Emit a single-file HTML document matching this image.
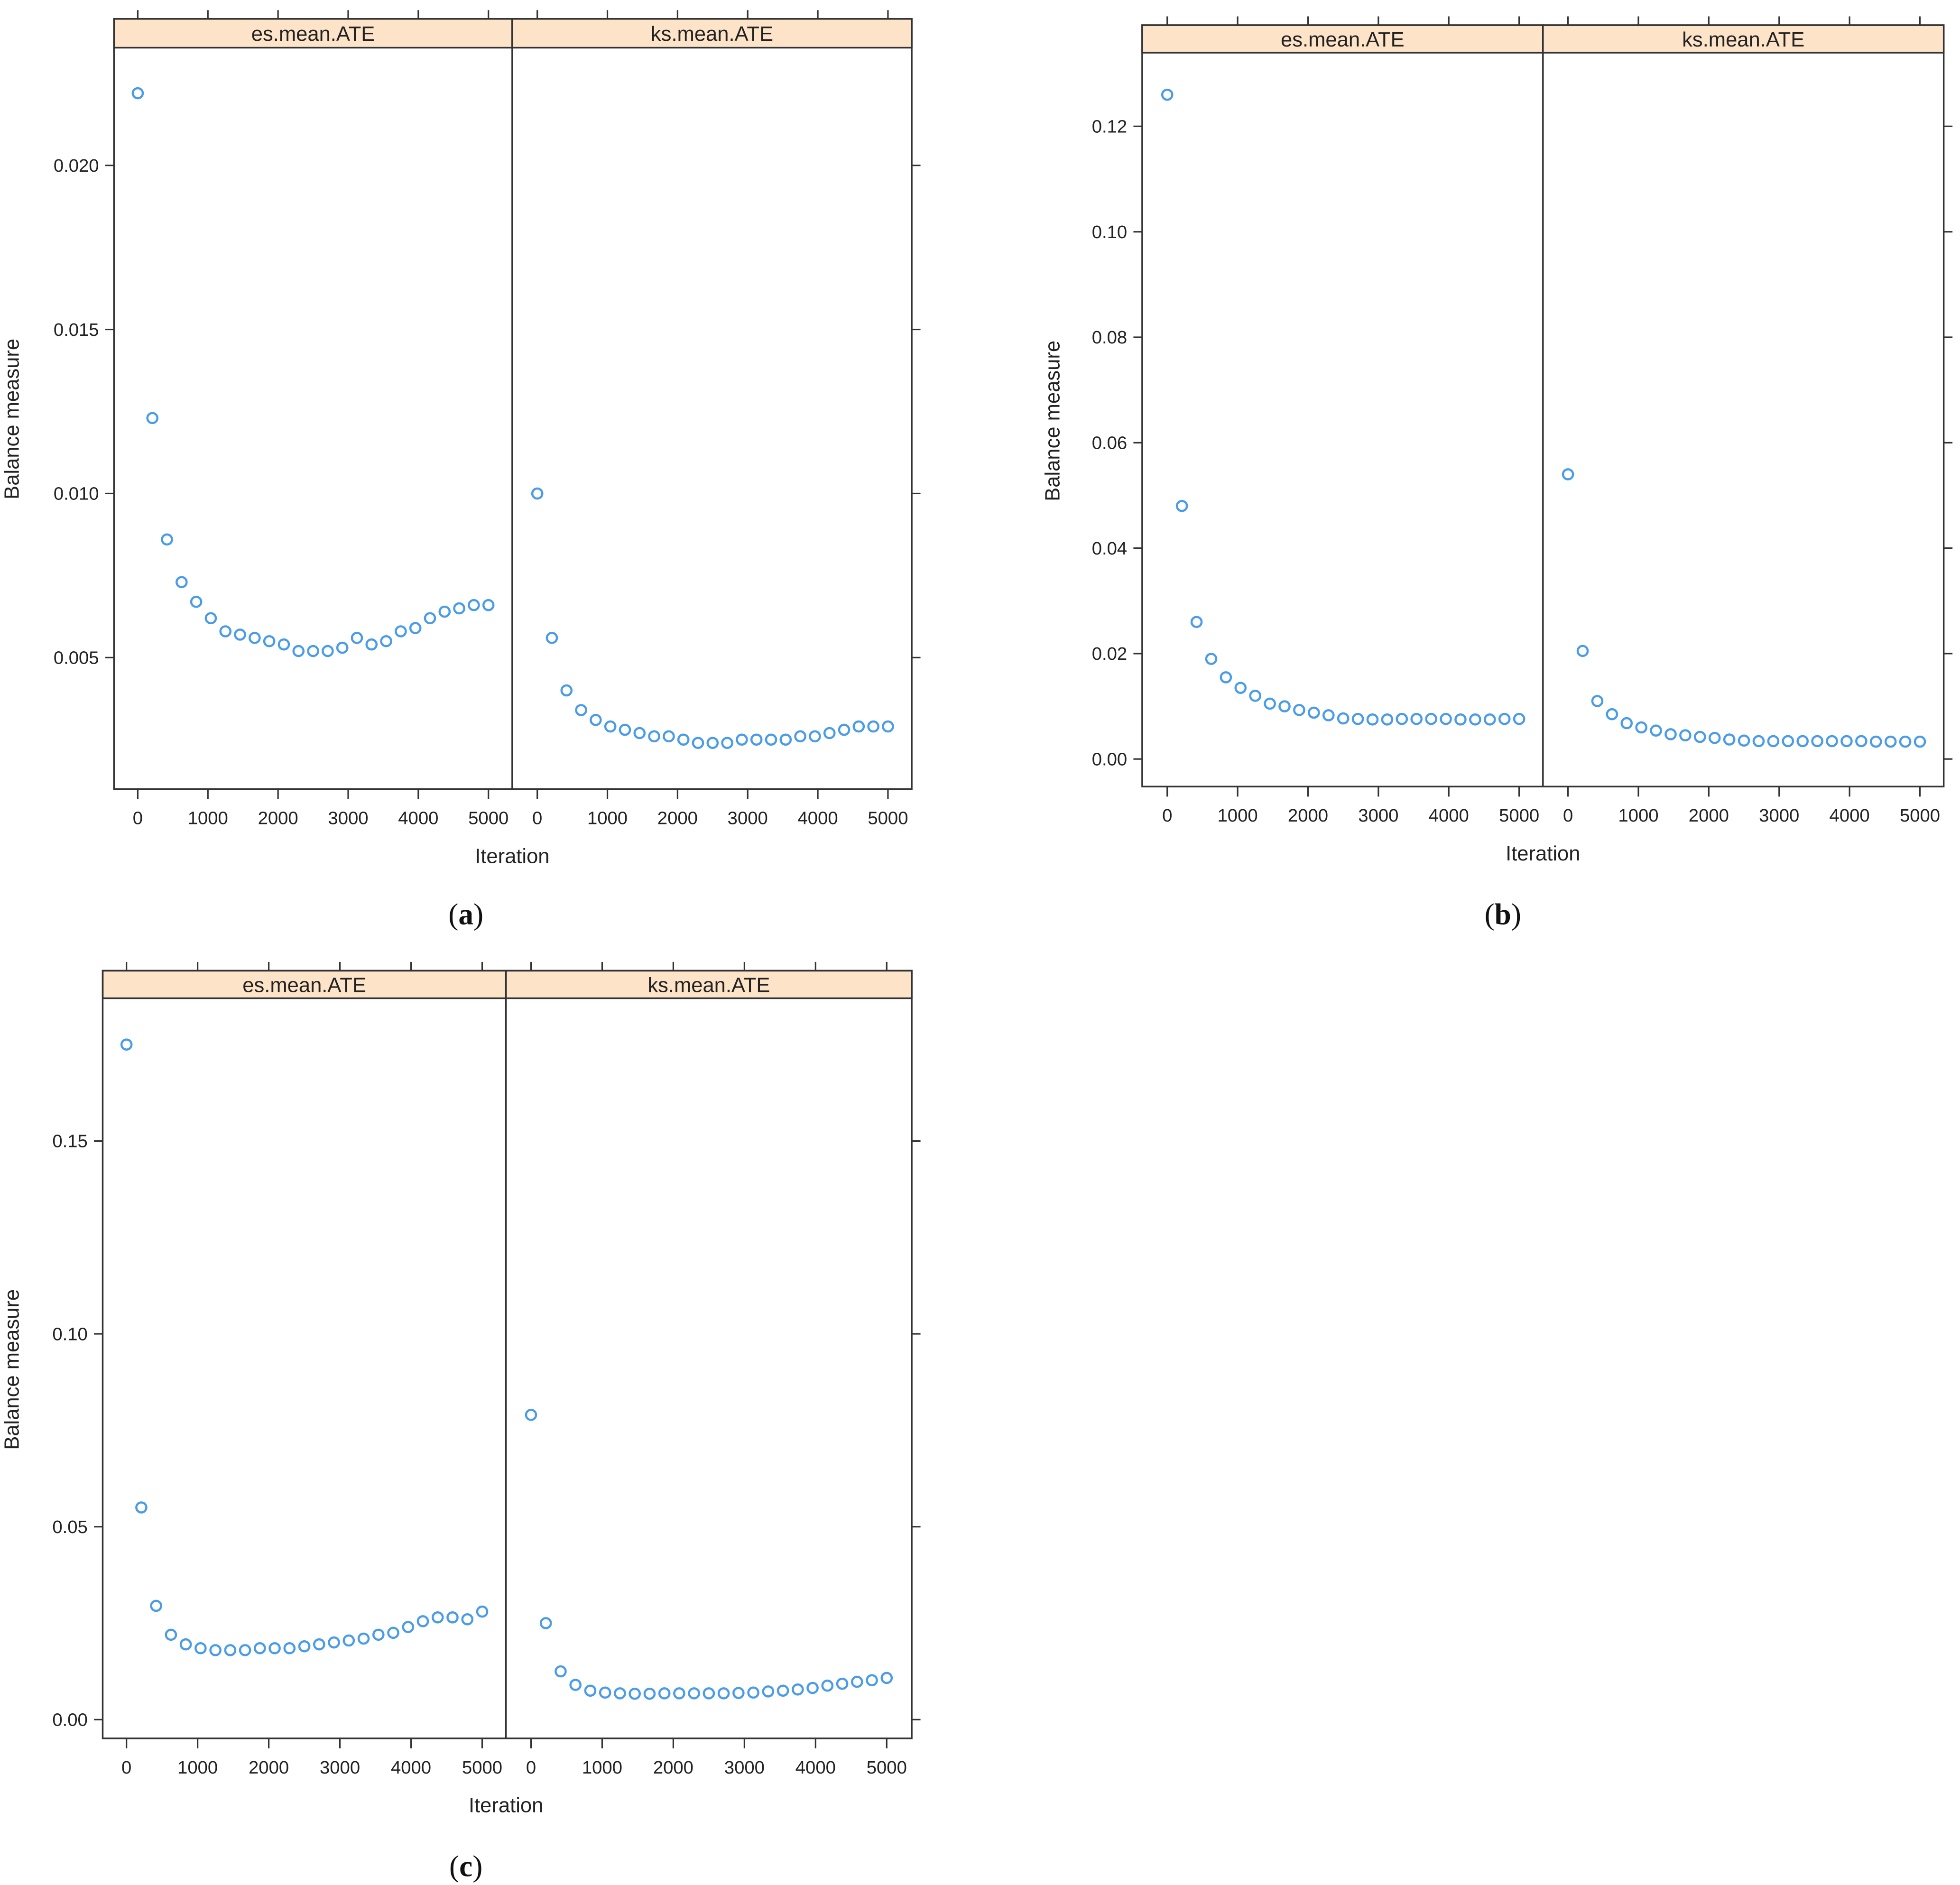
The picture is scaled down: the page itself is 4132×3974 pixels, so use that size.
<!DOCTYPE html>
<html><head><meta charset="utf-8"><style>
html,body{margin:0;padding:0;background:#fff;}
svg{display:block;font-family:"Liberation Sans",Arial,sans-serif;}
</style></head><body>
<svg id="chart" xmlns="http://www.w3.org/2000/svg" width="4132" height="3974" viewBox="0 0 1565 1505">
<rect x="0" y="0" width="1565" height="1505" fill="#fff"/>
</svg>
<script>
const iterations = Array.from({length:25},(_,i)=>i*5000/24);
const xTicks = [0,1000,2000,3000,4000,5000];
const panelNames = ["es.mean.ATE","ks.mean.ATE"];
const esA = [0.0222,0.0123,0.0086,0.0073,0.0067,0.0062,0.0058,0.0057,0.0056,0.0055,0.0054,0.0052,0.0052,0.0052,0.0053,0.0056,0.0054,0.0055,0.0058,0.0059,0.0062,0.0064,0.0065,0.0066,0.0066];
const ksA = [0.0100,0.0056,0.0040,0.0034,0.0031,0.0029,0.0028,0.0027,0.0026,0.0026,0.0025,0.0024,0.0024,0.0024,0.0025,0.0025,0.0025,0.0025,0.0026,0.0026,0.0027,0.0028,0.0029,0.0029,0.0029];
const yTicksA = [0.005,0.010,0.015,0.020];
const yLabelsA = ["0.005","0.010","0.015","0.020"];
const esB = [0.126,0.048,0.026,0.019,0.0155,0.0135,0.012,0.0105,0.010,0.0093,0.0088,0.0083,0.0077,0.0076,0.0075,0.0075,0.0076,0.0076,0.0076,0.0076,0.0075,0.0075,0.0075,0.0076,0.0076];
const ksB = [0.054,0.0205,0.011,0.0085,0.0068,0.006,0.0054,0.0047,0.0045,0.0042,0.004,0.0037,0.0035,0.0034,0.0034,0.0034,0.0034,0.0034,0.0034,0.0034,0.0034,0.0033,0.0033,0.0033,0.0033];
const yTicksB = [0,0.02,0.04,0.06,0.08,0.10,0.12];
const yLabelsB = ["0.00","0.02","0.04","0.06","0.08","0.10","0.12"];
const esC = [0.175,0.055,0.0295,0.022,0.0195,0.0185,0.018,0.018,0.018,0.0185,0.0185,0.0185,0.019,0.0195,0.020,0.0205,0.021,0.022,0.0225,0.024,0.0255,0.0265,0.0265,0.026,0.028];
const ksC = [0.079,0.025,0.0125,0.009,0.0075,0.007,0.0068,0.0067,0.0067,0.0068,0.0068,0.0068,0.0068,0.0068,0.0069,0.007,0.0073,0.0075,0.0078,0.0082,0.0088,0.0093,0.0098,0.0102,0.0108];
const yTicksC = [0,0.05,0.10,0.15];
const yLabelsC = ["0.00","0.05","0.10","0.15"];

const NS="http://www.w3.org/2000/svg";
const svg=document.getElementById('chart');
function mk(tag,attrs,parent,text){const e=document.createElementNS(NS,tag);for(const k in attrs)e.setAttribute(k,attrs[k]);if(text!==undefined)e.textContent=text;(parent||svg).appendChild(e);return e;}

function figure(id,cfg,series,yTicks,yLabels,caption){
  const g=mk('g',{});
  
  
  const {L,M,R,T,S,B,x0L,x0R,pxPer1000,y0,pxPerUnit,capX,capY}=cfg;
  const sx=(v,left)=>(left?x0L:x0R)+v/1000*pxPer1000;
  const sy=v=>y0-v*pxPerUnit;
  [[L,M],[M,R]].forEach((p,i)=>{
    const r=mk('rect',{x:p[0],y:T,width:p[1]-p[0],height:S-T,fill:'#fde3c8',stroke:'#333','stroke-width':1.3},g);
    
    
    const t=mk('text',{x:(p[0]+p[1])/2,y:T+(S-T)/2+6,'text-anchor':'middle','font-size':16.5,fill:'#222'},g,panelNames[i]);
    
    
  });
  const fr=mk('rect',{x:L,y:T,width:R-L,height:B-T,fill:'none',stroke:'#333','stroke-width':1.3},g);
  
  
  mk('line',{x1:M,y1:T,x2:M,y2:B,stroke:'#333','stroke-width':1.3},g);
  [true,false].forEach(left=>{
    xTicks.forEach(v=>{
      const x=sx(v,left);
      mk('line',{x1:x,y1:B,x2:x,y2:B+8,stroke:'#333','stroke-width':1.2},g);
      mk('line',{x1:x,y1:T,x2:x,y2:T-7,stroke:'#333','stroke-width':1.2},g);
      const t=mk('text',{x:x,y:B+28,'text-anchor':'middle','font-size':14.5,fill:'#222'},g,String(v));
      
      
    });
  });
  yTicks.forEach((v,i)=>{
    const y=sy(v);
    mk('line',{x1:L,y1:y,x2:L-7,y2:y,stroke:'#333','stroke-width':1.2},g);
    mk('line',{x1:R,y1:y,x2:R+7,y2:y,stroke:'#333','stroke-width':1.2},g);
    const t=mk('text',{x:L-12,y:y+5,'text-anchor':'end','font-size':14.5,fill:'#222'},g,yLabels[i]);
    
    
  });
  series.forEach((vals,si)=>{
    vals.forEach((v,i)=>{
      const c=mk('circle',{cx:sx(iterations[i],si===0),cy:sy(v),r:4,fill:'none',stroke:'#4a9be8','stroke-width':1.7},g);
      
      
    });
  });
  const xt=mk('text',{x:M,y:B+59,'text-anchor':'middle','font-size':16.5,fill:'#222'},g,'Iteration');
  
  
  const yc=(T+B)/2+12;
  const yt=mk('text',{x:cfg.yTitleX,y:yc,'text-anchor':'middle','font-size':16.5,fill:'#222',transform:`rotate(-90 ${cfg.yTitleX} ${yc})`},g,'Balance measure');
  
  
  const cp=mk('text',{x:capX,y:capY,'text-anchor':'middle','font-size':24,fill:'#111','font-family':'Liberation Serif, serif'},g);
  
  
  mk('tspan',{},cp,'(');
  mk('tspan',{'font-weight':'bold'},cp,caption);
  mk('tspan',{},cp,')');
}

figure('a',{L:91,M:409,R:728,T:15,S:38,B:630,x0L:110,x0R:429,pxPer1000:56,y0:656,pxPerUnit:26200,capX:372,capY:738,yTitleX:15},[esA,ksA],yTicksA,yLabelsA,'a');
figure('b',{L:912,M:1232,R:1552,T:20,S:42,B:628,x0L:932,x0R:1252,pxPer1000:56.2,y0:606,pxPerUnit:4210,capX:1200,capY:738,yTitleX:846},[esB,ksB],yTicksB,yLabelsB,'b');
figure('c',{L:82,M:404,R:728,T:775,S:797,B:1388,x0L:101,x0R:424,pxPer1000:56.8,y0:1373,pxPerUnit:3080,capX:372,capY:1498,yTitleX:15},[esC,ksC],yTicksC,yLabelsC,'c');
</script>
</body></html>
